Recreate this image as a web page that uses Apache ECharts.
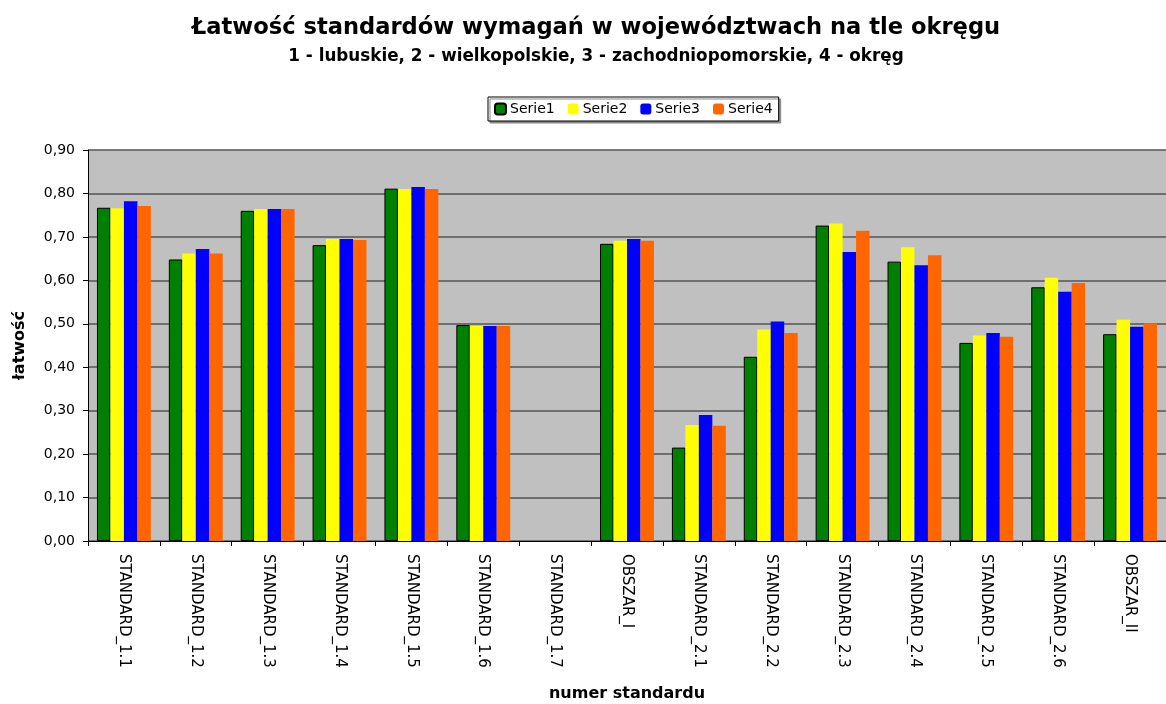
<!DOCTYPE html>
<html>
<head>
<meta charset="utf-8">
<script src="https://cdn.jsdelivr.net/npm/echarts@6/dist/echarts.min.js"></script>
<style>
  html, body { margin: 0; padding: 0; background: #fff; }
  #chart { width: 1166px; height: 704px; }
</style>
</head>
<body>
<div id="chart"></div>
<script>
// kategorie (numery standardów)
const categories = ['STANDARD_1.1', 'STANDARD_1.2', 'STANDARD_1.3', 'STANDARD_1.4', 'STANDARD_1.5',
  'STANDARD_1.6', 'STANDARD_1.7', 'OBSZAR_I', 'STANDARD_2.1', 'STANDARD_2.2', 'STANDARD_2.3',
  'STANDARD_2.4', 'STANDARD_2.5', 'STANDARD_2.6', 'OBSZAR_II'];

// łatwość w kolejnych województwach
const serie1 = [0.767, 0.648, 0.760, 0.681, 0.811, 0.497, null, 0.684, 0.215, 0.424, 0.726, 0.643, 0.456, 0.584, 0.476];
const serie2 = [0.766, 0.662, 0.764, 0.695, 0.810, 0.495, null, 0.691, 0.267, 0.487, 0.731, 0.676, 0.473, 0.606, 0.509];
const serie3 = [0.782, 0.672, 0.764, 0.695, 0.815, 0.495, null, 0.695, 0.290, 0.505, 0.665, 0.635, 0.479, 0.574, 0.493];
const serie4 = [0.771, 0.662, 0.764, 0.693, 0.810, 0.495, null, 0.691, 0.265, 0.479, 0.714, 0.658, 0.470, 0.594, 0.501];

const chart = echarts.init(document.getElementById('chart'));
const font = '"DejaVu Sans", "Liberation Sans", sans-serif';

chart.setOption({
  backgroundColor: '#fff',
  animation: false,
  textStyle: { fontFamily: font },
  title: {
    text: 'Łatwość standardów wymagań w województwach na tle okręgu',
    subtext: '1 - lubuskie, 2 - wielkopolskie, 3 - zachodniopomorskie, 4 - okręg',
    left: 591,
    textAlign: 'center',
    top: 12,
    itemGap: 8,
    textStyle: { fontFamily: font, fontSize: 22.6, fontWeight: 'bold', color: '#000' },
    subtextStyle: { fontFamily: font, fontSize: 16.8, fontWeight: 'bold', color: '#000' }
  },
  legend: {
    top: 97,
    left: 488,
    itemWidth: 11,
    itemHeight: 11,
    itemGap: 13,
    padding: [5, 6],
    borderColor: '#000',
    borderWidth: 1,
    borderRadius: 0,
    backgroundColor: '#fff',
    shadowColor: '#888',
    shadowOffsetX: 2,
    shadowOffsetY: 2,
    textStyle: { fontFamily: font, fontSize: 14, color: '#000', padding: [0, 0, 0, -1] },
    data: ['Serie1', 'Serie2', 'Serie3', 'Serie4']
  },
  grid: {
    left: 88, right: 0, top: 150, bottom: 163,
    containLabel: false, outerBoundsMode: 'none',
    show: true, backgroundColor: '#C0C0C0', borderWidth: 0
  },
  xAxis: {
    type: 'category',
    data: categories,
    name: 'numer standardu',
    nameLocation: 'middle',
    nameGap: 145,
    nameTextStyle: { fontFamily: font, fontSize: 16, fontWeight: 'bold', color: '#000' },
    axisLine: { lineStyle: { color: '#000', width: 1 } },
    axisTick: { show: true, interval: 0, length: 5, lineStyle: { color: '#000' } },
    axisLabel: { rotate: -90, interval: 0, margin: 13, fontSize: 15, color: '#000', fontFamily: font }
  },
  yAxis: {
    type: 'value',
    min: 0,
    max: 0.9,
    interval: 0.1,
    name: 'łatwość',
    nameLocation: 'middle',
    nameGap: 60,
    nameTextStyle: { fontFamily: font, fontSize: 16, fontWeight: 'bold', color: '#000' },
    axisLine: { show: true, lineStyle: { color: '#000', width: 1 } },
    axisTick: { show: true, length: 5, lineStyle: { color: '#000' } },
    axisLabel: {
      fontSize: 14, color: '#000', margin: 13, fontFamily: font,
      formatter: v => v.toFixed(2).replace('.', ',')
    },
    splitLine: { lineStyle: { color: '#555', width: 1.5 } }
  },
  series: [
    { name: 'Serie1', type: 'bar', data: serie1, barGap: '0%', barCategoryGap: '25%',
      itemStyle: { color: '#008000', borderColor: '#000', borderWidth: 1 } },
    { name: 'Serie2', type: 'bar', data: serie2, itemStyle: { color: '#FFFF00' } },
    { name: 'Serie3', type: 'bar', data: serie3, itemStyle: { color: '#0000FF' } },
    { name: 'Serie4', type: 'bar', data: serie4, itemStyle: { color: '#FF6600' } }
  ]
});
</script>
</body>
</html>
